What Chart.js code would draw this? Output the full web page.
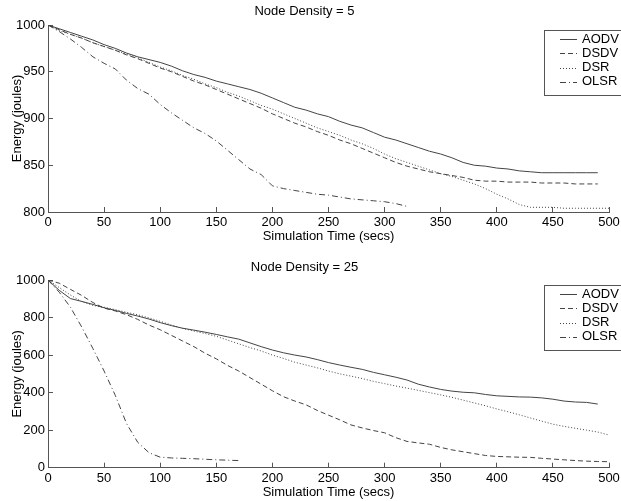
<!DOCTYPE html>
<html>
<head>
<meta charset="utf-8">
<script src="https://cdn.jsdelivr.net/npm/chart.js@4/dist/chart.umd.min.js"></script>
<style>
  html, body { margin: 0; padding: 0; background: #fff; }
  canvas { display: block; }
</style>
</head>
<body>
<canvas id="top" width="621" height="250"></canvas>
<canvas id="bottom" width="621" height="251"></canvas>
<script>
// simulation time grid, seconds
var simTime = [0,10,20,30,40,50,60,70,80,90,100,110,120,130,140,150,160,170,180,190,200,
  210,220,230,240,250,260,270,280,290,300,310,320,330,340,350,360,370,380,390,400,
  410,420,430,440,450,460,470,480,490,500];

var protocols = ['AODV', 'DSDV', 'DSR', 'OLSR'];

// remaining energy (joules), node density = 5
var aodv5 = [1000,996,992,988,984,979,975,970,966,963,960,956,951,947,944,940,937,934,931,927,922,
  917,912,909,905,902,897,893,890,885,880,877,873,869,865,862,858,853,850,849,847,
  846,844,843,842,842,842,842,842,842];
var dsdv5 = [1000,995,990,986,981,977,973,968,964,959,954,950,945,940,936,931,926,921,916,911,905,
  900,895,891,886,882,877,873,868,863,858,853,849,846,843,841,839,837,834,833,833,
  832,832,832,831,831,831,830,830,830];
var dsr5 = [1000,994,990,986,981,977,973,969,965,960,955,951,946,942,937,933,928,924,919,914,910,
  905,900,895,890,886,882,877,873,868,862,857,853,849,845,841,838,834,830,825,819,
  814,808,805,805,805,804,804,804,804,804];
var olsr5 = [1000,993,985,976,966,959,953,941,932,926,915,906,898,890,884,876,866,856,846,840,828,
  825,823,821,819,818,816,814,813,812,811,809,806];

// remaining energy (joules), node density = 25
var aodv25 = [1000,945,901,886,870,852,838,822,808,792,773,757,743,733,722,710,697,685,665,645,627,
  612,600,590,576,560,547,535,524,508,495,482,467,445,430,417,408,402,399,390,383,
  380,377,376,372,365,355,350,348,339];
var dsdv25 = [1000,983,950,918,880,850,835,815,790,760,735,705,675,645,610,580,545,515,480,445,410,
  378,355,335,305,280,255,228,212,198,186,160,140,132,125,108,95,85,75,65,60,
  58,56,55,50,46,42,38,35,33,32];
var dsr25 = [1000,960,920,885,865,855,842,828,815,798,780,760,742,728,715,700,680,660,640,622,600,
  582,562,547,532,515,500,488,475,460,448,435,424,412,400,388,375,360,345,330,313,
  298,282,265,248,232,220,210,200,190,174];
var olsr25 = [1000,935,855,750,635,515,385,235,135,80,56,52,50,48,45,42,40,38];

var lineColor = '#444';
var dashes = [[], [5, 3], [1, 2], [6, 3, 1, 3]];

Chart.defaults.font.family = '"Liberation Sans", Arial, sans-serif';
Chart.defaults.font.size = 13;
Chart.defaults.color = '#000';

function toPoints(vals) {
  return vals.map(function(v, i) { return {x: simTime[i], y: v}; });
}

function plain(value) { return String(value); }

// boxed legend drawn inside the top right corner of the plot
var legendBox = {
  id: 'legendBox',
  afterDatasetsDraw: function(chart) {
    var ctx = chart.ctx, area = chart.chartArea;
    var x = Math.round(area.right) - 65, y = Math.round(area.top) + 5;
    ctx.save();
    ctx.fillStyle = '#fff';
    ctx.fillRect(x, y, 90, 65);
    ctx.strokeStyle = '#555';
    ctx.lineWidth = 1;
    ctx.strokeRect(x + 0.5, y + 0.5, 90, 65);
    ctx.font = '13px "Liberation Sans", Arial, sans-serif';
    ctx.textBaseline = 'middle';
    chart.data.datasets.forEach(function(ds, i) {
      var cy = y + 9 + i * 14.3;
      ctx.strokeStyle = ds.borderColor;
      ctx.setLineDash(ds.borderDash);
      ctx.beginPath();
      ctx.moveTo(x + 16, Math.round(cy) + 0.5);
      ctx.lineTo(x + 33, Math.round(cy) + 0.5);
      ctx.stroke();
      ctx.setLineDash([]);
      ctx.fillStyle = '#000';
      ctx.fillText(ds.label, x + 38, cy);
    });
    ctx.restore();
  }
};

function makeChart(id, title, series, yMin, yStep, titlePad, xHeight, xTitlePad) {
  return new Chart(document.getElementById(id), {
    type: 'line',
    data: {
      datasets: series.map(function(vals, i) {
        return {
          label: protocols[i],
          data: toPoints(vals),
          borderColor: lineColor,
          borderWidth: 1,
          borderDash: dashes[i],
          pointRadius: 0,
          tension: 0,
          fill: false
        };
      })
    },
    options: {
      responsive: false,
      animation: false,
      layout: { padding: { left: 0, right: 12, top: 0, bottom: 0 } },
      plugins: {
        legend: { display: false },
        tooltip: { enabled: false },
        title: {
          display: true,
          text: title,
          color: '#000',
          font: { size: 13, weight: 'normal' },
          padding: titlePad
        }
      },
      scales: {
        x: {
          type: 'linear',
          min: 0,
          max: 500,
          ticks: { stepSize: 50, padding: 8, maxRotation: 0, color: '#000', callback: plain },
          grid: { drawOnChartArea: false, drawTicks: true, tickLength: -5, color: '#555' },
          border: { color: '#555' },
          title: { display: true, text: 'Simulation Time (secs)', color: '#000', padding: { top: 0, bottom: xTitlePad } },
          afterFit: function(scale) {
            scale.height = xHeight;
            scale.paddingLeft = 0;
            scale.paddingRight = 0;
          }
        },
        y: {
          min: yMin,
          max: 1000,
          ticks: { stepSize: yStep, padding: 8, color: '#000', callback: plain },
          grid: { drawOnChartArea: false, drawTicks: true, tickLength: -5, color: '#555' },
          border: { color: '#555' },
          title: { display: true, text: 'Energy (joules)', color: '#000', padding: { top: 10, bottom: 0 } },
          afterFit: function(scale) {
            scale.width = 48;
            scale.paddingTop = 0;
            scale.paddingBottom = 0;
          }
        }
      }
    },
    plugins: [legendBox]
  });
}

makeChart('top', 'Node Density = 5', [aodv5, dsdv5, dsr5, olsr5], 800, 50,
  { top: 4, bottom: 5.4 }, 38, 6);
makeChart('bottom', 'Node Density = 25', [aodv25, dsdv25, dsr25, olsr25], 0, 200,
  { top: 9.2, bottom: 5.2 }, 33.3, 1);
</script>
</body>
</html>
